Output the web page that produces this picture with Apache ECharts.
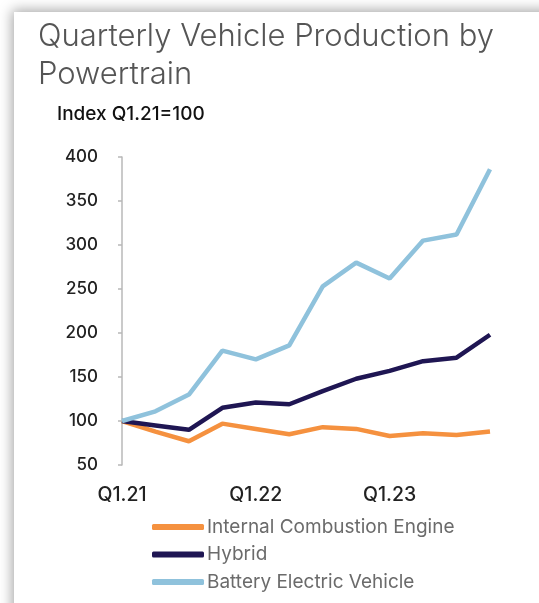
<!DOCTYPE html>
<html>
<head>
<meta charset="utf-8">
<script src="https://cdn.jsdelivr.net/npm/echarts@6/dist/echarts.min.js"></script>
<style>
  html, body { margin: 0; padding: 0; background: #fff; }
  #chart { width: 539px; height: 603px; }
</style>
</head>
<body>
<div id="chart"></div>
<script>
// quarters Q1.21 .. Q4.23, index Q1.21 = 100
var quarters = ['Q1.21', 'Q2.21', 'Q3.21', 'Q4.21', 'Q1.22', 'Q2.22', 'Q3.22', 'Q4.22', 'Q1.23', 'Q2.23', 'Q3.23', 'Q4.23'];
var iceValues = [100, 88, 77, 97, 91, 85, 93, 91, 83, 86, 84, 88];
var hybridValues = [100, 95, 90, 115, 121, 119, 134, 148, 157, 168, 172, 198];
var bevValues = [100, 111, 130, 180, 170, 186, 253, 280, 262, 305, 312, 386];
var seriesNames = ['Internal Combustion Engine', 'Hybrid', 'Battery Electric Vehicle'];
var seriesColors = ['#f5913f', '#1f1653', '#8fc2dc'];

var chart = echarts.init(document.getElementById('chart'));

var allValues = [iceValues, hybridValues, bevValues];

chart.setOption({
  backgroundColor: '#ffffff',
  animation: false,
  graphic: [{
    type: 'rect',
    z: -10,
    shape: { x: 14, y: 12, width: 600, height: 700 },
    style: {
      fill: '#ffffff',
      shadowBlur: 12,
      shadowColor: 'rgba(0,0,0,0.35)',
      shadowOffsetX: -2,
      shadowOffsetY: -2
    }
  }],
  title: [{
    text: 'Quarterly Vehicle Production by\nPowertrain',
    left: 38,
    top: 18,
    padding: 0,
    textStyle: {
      fontFamily: 'Inter',
      fontWeight: 300,
      fontSize: 31,
      lineHeight: 38,
      color: '#555555'
    }
  }, {
    text: 'Index Q1.21=100',
    left: 57,
    top: 105,
    padding: 0,
    textStyle: {
      fontFamily: 'Inter',
      fontWeight: 500,
      fontSize: 19,
      color: '#111111'
    }
  }],
  legend: {
    orient: 'vertical',
    left: 152,
    top: 517,
    padding: 0,
    itemWidth: 52,
    itemHeight: 6,
    itemGap: 7.5,
    icon: 'roundRect',
    textStyle: {
      fontFamily: 'Inter',
      fontSize: 19,
      lineHeight: 20,
      color: '#6b6b6b',
      padding: [0, 0, 0, -2]
    },
    data: seriesNames
  },
  grid: {
    left: 122,
    right: 49,
    top: 157,
    bottom: 138,
    containLabel: false
  },
  xAxis: {
    type: 'category',
    boundaryGap: false,
    data: quarters,
    axisLine: { show: false },
    axisTick: { show: false },
    axisLabel: {
      interval: 3,
      margin: 20,
      fontFamily: 'Inter',
      fontWeight: 500,
      fontSize: 19.5,
      color: '#222222'
    }
  },
  yAxis: {
    type: 'value',
    min: 50,
    max: 400,
    interval: 50,
    splitLine: { show: false },
    axisLine: { show: true, lineStyle: { color: '#b8b8b8', width: 1.5 } },
    axisTick: { show: true, length: 4, lineStyle: { color: '#b8b8b8', width: 1.5 } },
    axisLabel: {
      margin: 24,
      fontFamily: 'Inter',
      fontWeight: 500,
      fontSize: 17,
      color: '#222222'
    }
  },
  series: seriesNames.map(function (name, i) {
    return {
      name: name,
      type: 'line',
      data: allValues[i],
      showSymbol: false,
      symbol: 'none',
      color: seriesColors[i],
      lineStyle: { color: seriesColors[i], width: 4.5 },
      z: 2 + i
    };
  })
});
</script>
</body>
</html>
